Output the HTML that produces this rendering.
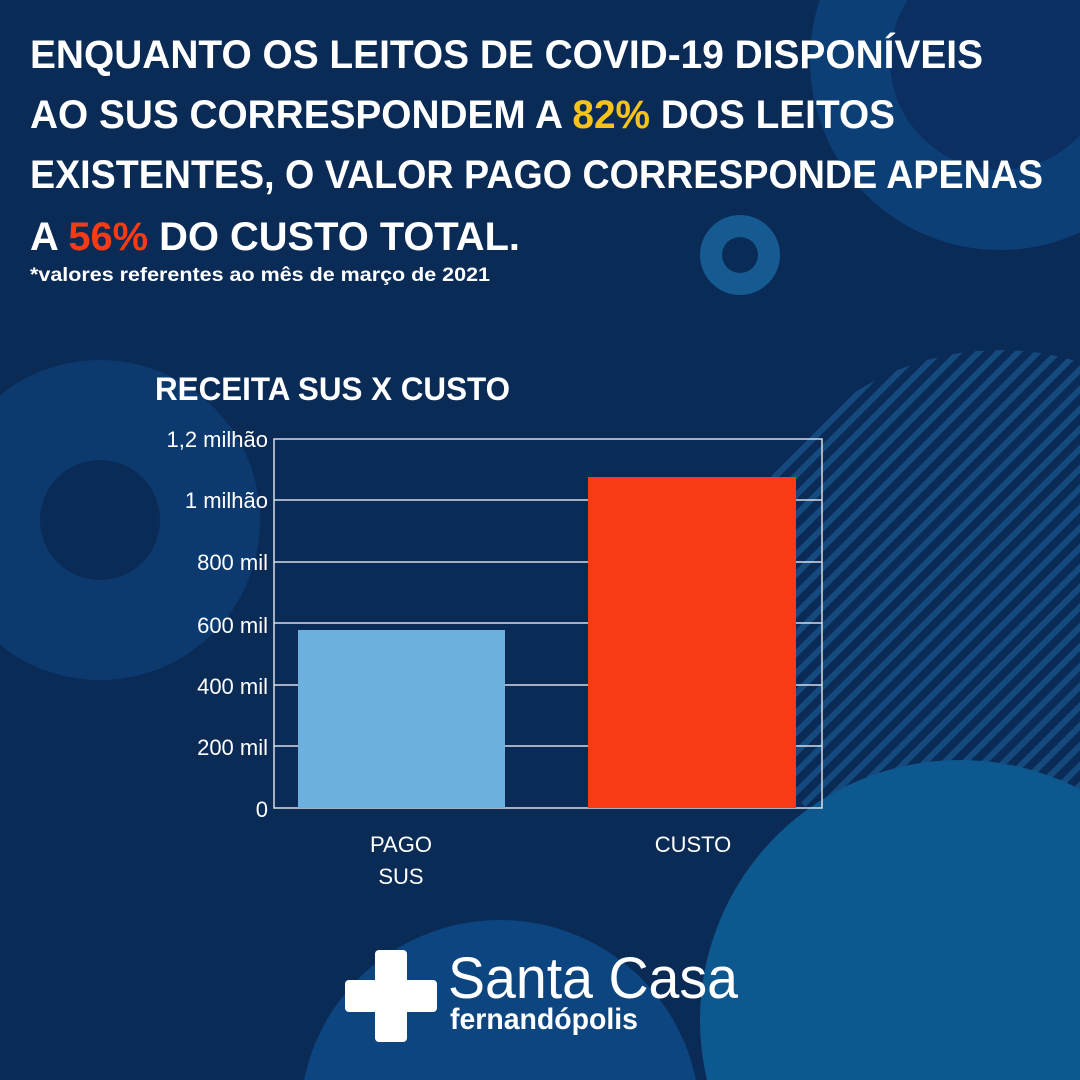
<!DOCTYPE html>
<html><head><meta charset="utf-8"><style>html,body{margin:0;padding:0;background:#0b2b57;width:1080px;height:1080px;overflow:hidden}svg{display:block;overflow:hidden}</style></head><body>
<svg width="1080" height="1080" viewBox="0 0 1080 1080" xmlns="http://www.w3.org/2000/svg" font-family="Liberation Sans, sans-serif">
<defs>
<pattern id="st" width="14" height="14" patternUnits="userSpaceOnUse" patternTransform="rotate(45)"><rect width="6" height="14" fill="#1d6aa6"/></pattern>
<clipPath id="cp"><rect width="1080" height="1080"/></clipPath>
</defs>
<rect width="1080" height="1080" fill="#0b2b57"/>
<g clip-path="url(#cp)">
<circle cx="1000" cy="60" r="190" fill="#0d3f77"/>
<circle cx="1000" cy="60" r="110" fill="#0a2f60"/>
<circle cx="100" cy="520" r="160" fill="#0c3a6f"/>
<circle cx="100" cy="520" r="60" fill="#0b2b57"/>
<circle cx="1000" cy="620" r="270" fill="url(#st)" opacity="0.5"/>
<circle cx="960" cy="1020" r="260" fill="#0e5890"/>
<circle cx="500" cy="1120" r="200" fill="#0d4580"/>
<circle cx="740" cy="255" r="40" fill="#155a91"/>
<circle cx="740" cy="255" r="18" fill="#0b2b57"/>
</g>
<g font-weight="bold" fill="#fff" font-size="40">
<text x="30" y="68" textLength="953" lengthAdjust="spacingAndGlyphs">ENQUANTO OS LEITOS DE COVID-19 DISPONÍVEIS</text>
<text x="30" y="128" textLength="865" lengthAdjust="spacingAndGlyphs">AO SUS CORRESPONDEM A <tspan fill="#f7c21b">82%</tspan> DOS LEITOS</text>
<text x="30" y="188" textLength="1013" lengthAdjust="spacingAndGlyphs">EXISTENTES, O VALOR PAGO CORRESPONDE APENAS</text>
<text x="30" y="250" textLength="490" lengthAdjust="spacingAndGlyphs">A <tspan fill="#f83a15">56%</tspan> DO CUSTO TOTAL.</text>
<text x="30" y="281" font-size="19" textLength="460" lengthAdjust="spacingAndGlyphs">*valores referentes ao mês de março de 2021</text>
<text x="155" y="400" font-size="32" textLength="355" lengthAdjust="spacingAndGlyphs">RECEITA SUS X CUSTO</text>
</g>
<g stroke="#d8dde6" stroke-width="1.5" fill="none">
<rect x="274" y="439" width="548" height="369"/>
<line x1="274" y1="500" x2="822" y2="500"/><line x1="274" y1="562" x2="822" y2="562"/>
<line x1="274" y1="623" x2="822" y2="623"/><line x1="274" y1="685" x2="822" y2="685"/>
<line x1="274" y1="746" x2="822" y2="746"/>
</g>
<rect x="298" y="630" width="207" height="178" fill="#6cb0e0"/>
<rect x="588" y="477" width="208" height="331" fill="#f83a15"/>
<g fill="#fff" font-size="22" text-anchor="end">
<text x="268" y="447">1,2 milhão</text><text x="268" y="508">1 milhão</text>
<text x="268" y="570">800 mil</text><text x="268" y="633">600 mil</text>
<text x="268" y="694">400 mil</text><text x="268" y="755">200 mil</text>
<text x="268" y="817">0</text>
</g>
<g fill="#fff" font-size="22" text-anchor="middle">
<text x="401" y="852">PAGO</text><text x="401" y="884">SUS</text><text x="693" y="852">CUSTO</text>
</g>
<g fill="#fff">
<rect x="375" y="950" width="32" height="92" rx="4"/>
<rect x="345" y="980" width="92" height="32" rx="4"/>
<text x="448" y="998" font-size="58" textLength="290" lengthAdjust="spacingAndGlyphs">Santa Casa</text>
<text x="450" y="1029" font-size="30" font-weight="bold" textLength="188" lengthAdjust="spacingAndGlyphs">fernandópolis</text>
</g>
</svg>
</body></html>
